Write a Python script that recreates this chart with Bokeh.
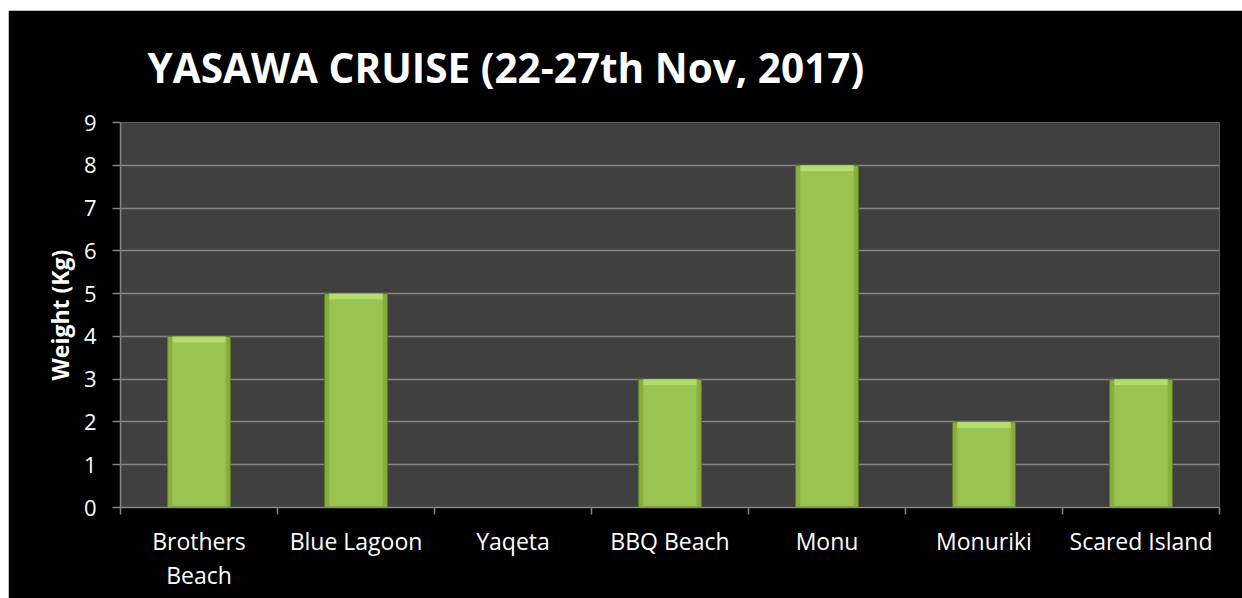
from bokeh.plotting import figure
from bokeh.models import (ColumnDataSource, Range1d, FixedTicker)
from bokeh.embed import file_html
from bokeh.resources import INLINE

# ---- data ----
categories = ["Brothers\nBeach", "Blue Lagoon", "Yaqeta", "BBQ Beach", "Monu", "Monuriki", "Scared Island"]
weights = [4, 5, 0, 3, 8, 2, 3]
y_ticks = [0, 1, 2, 3, 4, 5, 6, 7, 8, 9]
title_text = "YASAWA CRUISE (22-27th Nov, 2017)"
y_label = "Weight (Kg)"

FONT = "Open Sans"
GRID = "#858585"

n = len(categories)
centers = [i + 0.5 for i in range(n)]
bounds = list(range(n + 1))

src = ColumnDataSource(dict(x=centers, w=weights))
nz = [(c, v) for c, v in zip(centers, weights) if v > 0]
cap_src = ColumnDataSource(dict(x=[c for c, v in nz], top=[v for c, v in nz],
                                bot=[v - 0.14 for c, v in nz]))

p = figure(x_range=Range1d(0, n), y_range=Range1d(0, y_ticks[-1]),
           width=1234, height=588, output_backend="svg", toolbar_location=None,
           x_axis_location="below", y_axis_location="left",
           background_fill_color="#404040", border_fill_color="black",
           outline_line_color=None,
           min_border_left=112, min_border_right=23, min_border_top=112, min_border_bottom=91)
p.margin = (10, 0, 0, 8)

# title
p.title.text = title_text
p.title.align = "left"
p.title.offset = 27
p.title.text_color = "white"
p.title.text_font = FONT
p.title.text_font_style = "bold"
p.title.text_font_size = "40.5px"
p.title.standoff = 55

# bars
p.vbar(x="x", top="w", bottom=0, width=0.4, source=src,
       fill_color="#89AE3E", line_color="#5C7A28", line_width=1)
p.vbar(x="x", top="bot", bottom=0.04, width=0.34, source=cap_src,
       fill_color="#9AC450", line_color=None)
p.vbar(x="x", top="top", bottom="bot", width=0.34, source=cap_src,
       fill_color="#B5DC6E", line_color=None)

# y axis
ya = p.yaxis[0]
ya.ticker = FixedTicker(ticks=y_ticks)
ya.axis_line_color = GRID
ya.axis_line_width = 1.5
ya.major_tick_line_color = GRID
ya.major_tick_line_width = 1.5
ya.major_tick_out = 8
ya.major_tick_in = 0
ya.minor_tick_line_color = None
ya.major_label_text_color = "white"
ya.major_label_text_font = FONT
ya.major_label_text_font_size = "22px"
ya.major_label_standoff = 16
ya.axis_label = y_label
ya.axis_label_text_color = "white"
ya.axis_label_text_font = FONT
ya.axis_label_text_font_style = "bold"
ya.axis_label_text_font_size = "23px"
ya.axis_label_standoff = 5

p.ygrid.ticker = FixedTicker(ticks=y_ticks)
p.ygrid.grid_line_color = GRID
p.ygrid.grid_line_width = 1.5
p.xgrid.grid_line_color = None

# x axis: labels at centers, ticks (minor) at category boundaries
xa = p.xaxis[0]
xa.ticker = FixedTicker(ticks=centers, minor_ticks=bounds)
xa.major_label_overrides = {c: name for c, name in zip(centers, categories)}
xa.axis_line_color = GRID
xa.axis_line_width = 1.5
xa.major_tick_line_color = None
xa.major_tick_out = 7
xa.major_tick_in = 0
xa.minor_tick_line_color = GRID
xa.minor_tick_line_width = 1.5
xa.minor_tick_out = 7
xa.minor_tick_in = 0
xa.major_label_text_color = "white"
xa.major_label_text_font = FONT
xa.major_label_text_font_size = "23px"
xa.major_label_text_line_height = 1.07
xa.major_label_standoff = 10

open("out.html", "w").write(file_html(p, INLINE))
